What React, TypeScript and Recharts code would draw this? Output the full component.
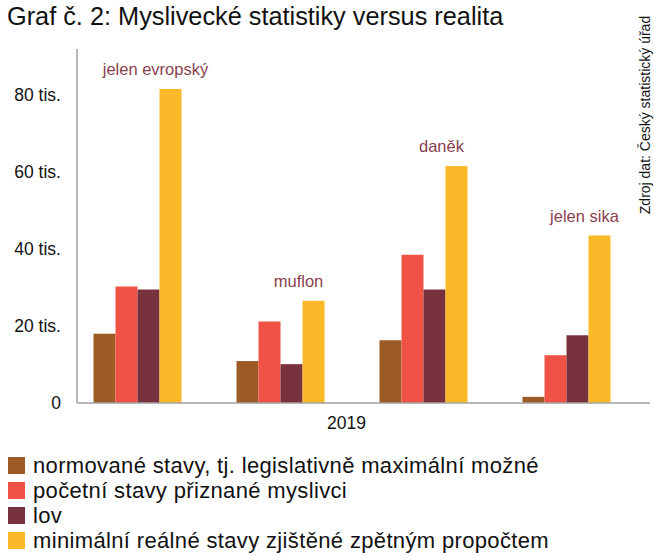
import React from 'react';
import { BarChart, Bar, XAxis, YAxis, Legend, LabelList } from 'recharts';

const species = ['jelen evropský', 'muflon', 'daněk', 'jelen sika'];
const normovane = [18000, 10900, 16300, 1600];
const pocetni = [30300, 21200, 38500, 12400];
const lov = [29500, 10100, 29500, 17600];
const realne = [81600, 26600, 61600, 43500];
const yTicks = [0, 20000, 40000, 60000, 80000];
const yearLabel = '2019';
const seriesNames = [
  'normované stavy, tj. legislativně maximální možné',
  'početní stavy přiznané myslivci',
  'lov',
  'minimální reálné stavy zjištěné zpětným propočtem',
];
const colors = ['#9C5B24', '#F05245', '#78323E', '#FBB829'];

const data = species.map((s, i) => ({
  idx: i,
  species: s,
  normovane: normovane[i],
  pocetni: pocetni[i],
  lov: lov[i],
  realne: realne[i],
}));

const keys = ['normovane', 'pocetni', 'lov', 'realne'];

const SpeciesLabel = (props: any) => {
  const { x, y, value } = props;
  return (
    <text
      x={Number(x) - 4}
      y={Number(y) - 14}
      textAnchor="middle"
      fill="#8A3F4E"
      fontSize={16.5}
      fontFamily="Liberation Sans, Arial, sans-serif"
    >
      {value}
    </text>
  );
};

const LegendContent = () => (
  <div style={{ fontFamily: 'Liberation Sans, Arial, sans-serif', fontSize: 22, letterSpacing: 0.35, color: '#111' }}>
    {seriesNames.map((n, i) => (
      <div key={n} style={{ display: 'flex', alignItems: 'center', height: 25 }}>
        <span style={{ display: 'inline-block', width: 17, height: 17, background: colors[i], marginRight: 8, flexShrink: 0 }} />
        <span style={{ whiteSpace: 'nowrap' }}>{n}</span>
      </div>
    ))}
  </div>
);

export default function App() {
  return (
    <div style={{ position: 'absolute', left: 0, top: 0, width: 654, height: 556, background: '#fff' }}>
      <div
        style={{
          position: 'absolute',
          left: 7,
          top: 2,
          fontFamily: 'Liberation Sans Narrow, Arial Narrow, sans-serif',
          fontSize: 25.3,
          color: '#111',
          whiteSpace: 'nowrap',
        }}
      >
        Graf č. 2: Myslivecké statistiky versus realita
      </div>
      <div
        style={{
          position: 'absolute',
          left: 645,
          top: 115,
          transform: 'translate(-50%, -50%) rotate(-90deg)',
          fontFamily: 'Liberation Sans, Arial, sans-serif',
          fontSize: 14,
          color: '#111',
          whiteSpace: 'nowrap',
          zIndex: 2,
        }}
      >
        Zdroj dat: Český statistický úřad
      </div>
      <BarChart
        width={654}
        height={556}
        data={data}
        margin={{ top: 49, right: 4, bottom: 123, left: 0 }}
        barGap={0}
      >
        <XAxis
          type="number"
          dataKey="idx"
          domain={[-0.4266, 3.5804]}
          ticks={[]}
          tick={false}
          tickLine={false}
          axisLine={{ stroke: '#A0A0A0', strokeWidth: 1.5 }}
          height={30}
          allowDataOverflow
          label={{
            value: yearLabel,
            position: 'insideBottom',
            offset: 4,
            dx: -17,
            fill: '#111',
            fontSize: 17.5,
            fontFamily: 'Liberation Sans, Arial, sans-serif',
          }}
        />
        <YAxis
          width={77}
          domain={[0, 92000]}
          ticks={yTicks}
          allowDataOverflow
          tickLine={false}
          tickMargin={10}
          axisLine={{ stroke: '#A0A0A0', strokeWidth: 1.5 }}
          tick={{ fill: '#111', fontSize: 17.5, fontFamily: 'Liberation Sans, Arial, sans-serif' }}
          tickFormatter={(v: number) => (v === 0 ? '0' : `${v / 1000} tis.`)}
        />
        {keys.map((k, i) => (
          <Bar key={k} dataKey={k} name={seriesNames[i]} fill={colors[i]} barSize={22} isAnimationActive={false}>
            {k === 'realne' ? <LabelList dataKey="species" content={SpeciesLabel} /> : null}
          </Bar>
        ))}
        <Legend
          layout="vertical"
          align="center"
          verticalAlign="middle"
          content={LegendContent}
          wrapperStyle={{ left: 8, top: 453, width: 640 }}
        />
      </BarChart>
    </div>
  );
}
